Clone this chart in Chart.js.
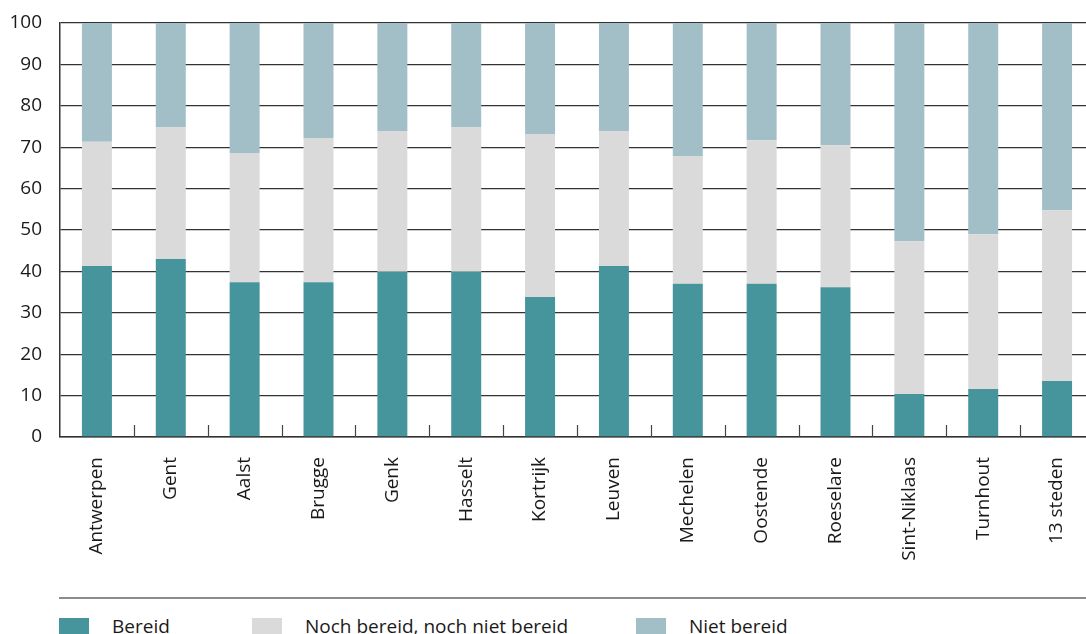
<!DOCTYPE html>
<html>
<head>
  <title>Bereidheid per stad</title>
  <style>
    body {
      margin: 0;
      overflow: hidden;
      background: #fff;
      font-family: "Open Sans", sans-serif;
    }
    #chart-container {
      position: absolute;
      left: 0;
      top: 0;
      width: 1094px;
      height: 590px;
    }
    #separator {
      position: absolute;
      left: 59px;
      top: 597px;
      width: 1040px;
      height: 2px;
      background: #8c8c8c;
    }
    .legend-item {
      position: absolute;
      top: 613px;
      font-size: 19px;
      color: #1a1a1a;
      white-space: nowrap;
    }
    .legend-box {
      position: absolute;
      top: 618px;
      width: 30px;
      height: 16px;
    }
  </style>
</head>
<body>
  <div id="chart-container">
    <canvas id="chart" width="1094" height="590"></canvas>
  </div>
  <div id="separator"></div>
  <div id="legend"></div>
  <script src="https://cdn.jsdelivr.net/npm/chart.js"></script>
  <script>
    // Data (percentages)
    const cities = ["Antwerpen", "Gent", "Aalst", "Brugge", "Genk", "Hasselt", "Kortrijk", "Leuven", "Mechelen", "Oostende", "Roeselare", "Sint-Niklaas", "Turnhout", "13 steden"];
    const bereid = [41.3, 43.0, 37.4, 37.4, 39.9, 39.9, 33.8, 41.3, 37.0, 37.0, 36.2, 10.4, 11.6, 13.5];
    const nochBereid = [30.0, 31.9, 31.2, 34.8, 34.0, 35.0, 39.4, 32.6, 30.9, 34.7, 34.3, 36.9, 37.4, 41.3];
    const nietBereid = [28.7, 25.1, 31.4, 27.8, 26.1, 25.1, 26.8, 26.1, 32.1, 28.3, 29.5, 52.7, 51.0, 45.2];
    const yTicks = [0, 10, 20, 30, 40, 50, 60, 70, 80, 90, 100];

    const seriesNames = ["Bereid", "Noch bereid, noch niet bereid", "Niet bereid"];
    const seriesColors = ["#46949c", "#dadada", "#a2bfc7"];
    const seriesData = [bereid, nochBereid, nietBereid];

    // Small upward ticks between categories on the x axis
    const boundaryTicks = {
      id: "boundaryTicks",
      afterDraw(chart) {
        const xs = chart.scales.x;
        const ctx = chart.ctx;
        const bottom = chart.chartArea.bottom;
        ctx.save();
        ctx.strokeStyle = "#444";
        ctx.lineWidth = 1.2;
        for (let i = 0; i < cities.length - 1; i++) {
          const x = Math.round((xs.getPixelForValue(i) + xs.getPixelForValue(i + 1)) / 2) + 0.5;
          ctx.beginPath();
          ctx.moveTo(x, bottom);
          ctx.lineTo(x, bottom - 12);
          ctx.stroke();
        }
        ctx.restore();
      }
    };

    new Chart(document.getElementById("chart"), {
      type: "bar",
      data: {
        labels: cities,
        datasets: seriesNames.map((name, i) => ({
          label: name,
          data: seriesData[i],
          backgroundColor: seriesColors[i],
          borderWidth: 0,
          barPercentage: 0.406,
          categoryPercentage: 1
        }))
      },
      options: {
        responsive: false,
        animation: false,
        layout: { padding: { top: 23, left: 0, right: 0, bottom: 0 } },
        plugins: {
          legend: { display: false },
          tooltip: { enabled: false }
        },
        scales: {
          x: {
            stacked: true,
            grid: { display: false, drawTicks: false },
            border: { display: true, color: "#333", width: 1.5 },
            afterFit(scale) {
              scale.height = 153;
              scale.paddingLeft = 0;
              scale.paddingRight = 0;
            },
            ticks: {
              autoSkip: false,
              minRotation: 90,
              maxRotation: 90,
              padding: 20,
              color: "#1a1a1a",
              font: { family: "Open Sans", size: 19 }
            }
          },
          y: {
            stacked: true,
            min: 0,
            max: 100,
            afterFit(scale) {
              scale.width = 60;
              scale.paddingTop = 0;
              scale.paddingBottom = 0;
            },
            afterBuildTicks(scale) { scale.ticks = yTicks.map(v => ({ value: v })); },
            grid: { color: "#333", lineWidth: 1.3, drawTicks: false },
            border: { display: true, color: "#333", width: 1.5 },
            ticks: {
              padding: 18,
              color: "#1a1a1a",
              font: { family: "Open Sans", size: 19 }
            }
          }
        }
      },
      plugins: [boundaryTicks]
    });

    // Legend below the separator line
    const legend = document.getElementById("legend");
    const legendLeft = [59, 252, 636];
    seriesNames.forEach((name, i) => {
      const box = document.createElement("div");
      box.className = "legend-box";
      box.style.left = legendLeft[i] + "px";
      box.style.background = seriesColors[i];
      legend.appendChild(box);
      const text = document.createElement("div");
      text.className = "legend-item";
      text.style.left = (legendLeft[i] + 53) + "px";
      text.textContent = name;
      legend.appendChild(text);
    });
  </script>
</body>
</html>
